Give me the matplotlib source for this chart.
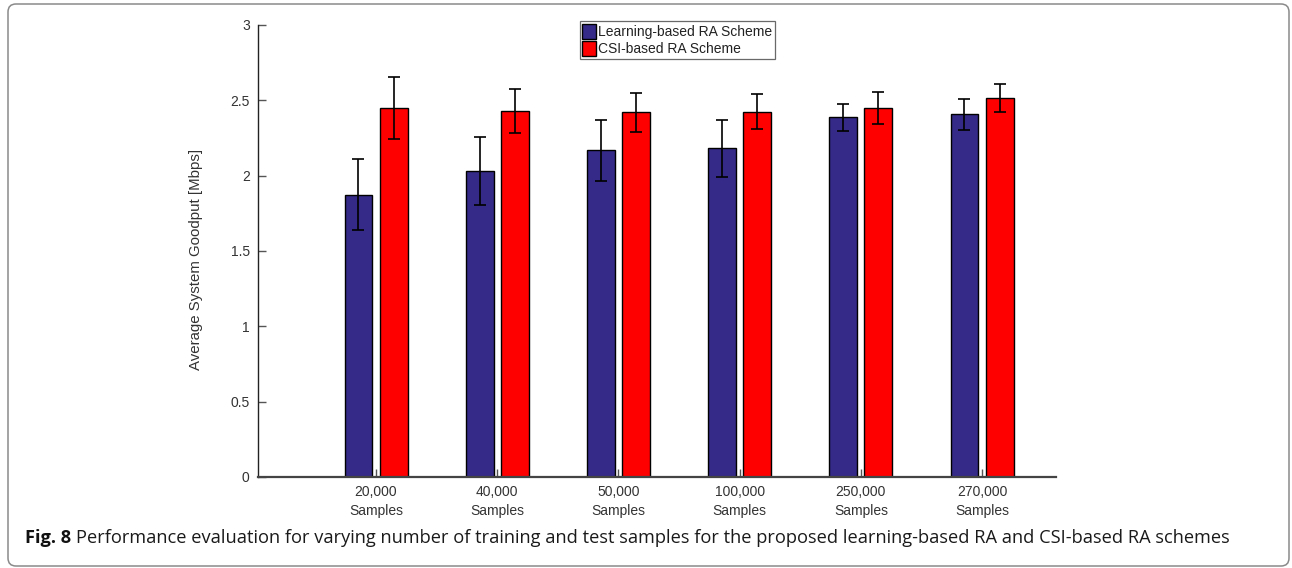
import matplotlib
matplotlib.use("Agg")
import matplotlib.pyplot as plt
import numpy as np
from matplotlib.patches import FancyBboxPatch

plt.rcParams['font.family'] = ['Liberation Sans', 'DejaVu Sans']

categories = ['20,000\nSamples', '40,000\nSamples', '50,000\nSamples',
              '100,000\nSamples', '250,000\nSamples', '270,000\nSamples']
learning_mean = [1.875, 2.03, 2.168, 2.182, 2.388, 2.407]
learning_err = [0.235, 0.226, 0.204, 0.19, 0.09, 0.105]
csi_mean = [2.449, 2.427, 2.421, 2.423, 2.447, 2.513]
csi_err = [0.207, 0.145, 0.13, 0.116, 0.106, 0.093]

W, H = 1292, 568
fig = plt.figure(figsize=(W / 100, H / 100), dpi=100)
ax = fig.add_axes([258 / W, 1 - 477 / H, (1056 - 258) / W, (477 - 25) / H])

x = np.arange(1, len(categories) + 1)
off, bw = 0.145, 0.23
err_kw = dict(ecolor='black', elinewidth=1.2, capsize=4.6, capthick=1.2)
ax.bar(x - off, learning_mean, bw, yerr=learning_err, color='#352a87',
       edgecolor='black', linewidth=1, label='Learning-based RA Scheme',
       error_kw=err_kw, zorder=2)
ax.bar(x + off, csi_mean, bw, yerr=csi_err, color='#ff0000',
       edgecolor='black', linewidth=1, label='CSI-based RA Scheme',
       error_kw=err_kw, zorder=2)

ax.set_xlim(0.026, 6.61)
ax.set_ylim(0, 3)
ax.set_yticks([0, 0.5, 1, 1.5, 2, 2.5, 3])
ax.set_yticklabels(['0', '0.5', '1', '1.5', '2', '2.5', '3'])
ax.set_xticks(x)
ax.set_xticklabels(categories, linespacing=1.45)

for s in ['top', 'right']:
    ax.spines[s].set_visible(False)
ax.spines['left'].set_color('#222222')
ax.spines['left'].set_linewidth(1.0)
ax.spines['bottom'].set_color('#444444')
ax.spines['bottom'].set_linewidth(1.6)
ax.tick_params(axis='both', direction='in', length=6, width=1,
               colors='#555555', labelcolor='#333333', labelsize=10)
ax.tick_params(axis='x', pad=6)
ax.tick_params(axis='y', pad=6)

ax.set_ylabel('Average System Goodput [Mbps]', fontsize=10.8, color='#333333')
ax.yaxis.set_label_coords((203 - 258) / (1056 - 258), 0.482)

leg = ax.legend(loc='upper center', bbox_to_anchor=(0.5255, 1.008),
                fancybox=False, edgecolor='#444444', fontsize=10,
                handlelength=1.0, handleheight=1.25, handletextpad=0.15,
                borderpad=0.2, labelspacing=0.12, borderaxespad=0)
leg.get_frame().set_linewidth(0.9)
for t in leg.get_texts():
    t.set_color('#222222')

# panel frame around the whole figure
frame = FancyBboxPatch((8 / 100, 2 / 100), (1289 - 8) / 100, (564 - 2) / 100,
                       boxstyle='round,pad=0,rounding_size=0.08',
                       transform=fig.dpi_scale_trans, fill=False,
                       edgecolor='#8a8a8a', linewidth=1.1)
fig.add_artist(frame)

# caption: bold figure number followed by regular text
cap_y = 1 - 538 / H
renderer = fig.canvas.get_renderer()
t1 = fig.text(25 / W, cap_y, 'Fig. 8', fontsize=13.15, fontweight='bold',
              family='Open Sans', va='center', color='#111111')
bb = t1.get_window_extent(renderer)
fig.text(bb.x1 / W + 5 / W, cap_y,
         'Performance evaluation for varying number of training and test samples '
         'for the proposed learning-based RA and CSI-based RA schemes',
         fontsize=13.15, family='Open Sans', va='center', color='#1a1a1a')

fig.savefig('out.png', dpi=100)
